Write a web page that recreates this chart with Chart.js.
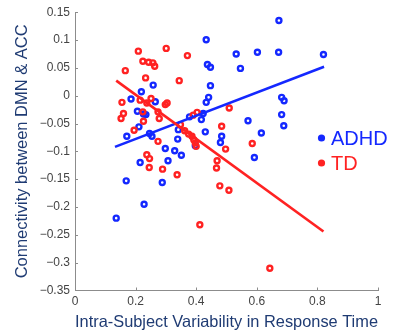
<!DOCTYPE html>
<html><head><meta charset="utf-8">
<script src="https://cdn.jsdelivr.net/npm/chart.js@4/dist/chart.umd.min.js"></script>
<style>html,body{margin:0;padding:0;background:#fff}#wrap{width:399px;height:335px;position:relative}</style>
</head><body><div id="wrap"><canvas id="c" width="399" height="335"></canvas></div>
<script>
const seriesNames = ['ADHD', 'TD'];
const xTitle = 'Intra-Subject Variability in Response Time';
const yTitle = 'Connectivity between DMN & ACC';
const xTicks = [0, 0.2, 0.4, 0.6, 0.8, 1];
const yTicks = [0.15, 0.1, 0.05, 0, -0.05, -0.1, -0.15, -0.2, -0.25, -0.3, -0.35];

const adhdX = [0.433,0.437,0.447,0.447,0.441,0.433,0.258,0.219,0.185,0.265,0.206,0.226,0.234,0.211,0.171,0.246,0.254,0.341,0.339,0.378,0.417,0.423,0.430,0.484,0.480,0.298,0.329,0.351,0.397,0.215,0.307,0.169,0.288,0.228,0.136,0.673,0.532,0.602,0.672,0.820,0.546,0.682,0.690,0.571,0.682,0.689,0.615,0.592];
const adhdY = [0.1005,0.056,0.051,0.018,-0.003,-0.012,0.019,0.007,-0.006,-0.011,-0.028,-0.033,-0.034,-0.056,-0.073,-0.068,-0.073,-0.061,-0.078,-0.038,-0.043,-0.032,-0.065,-0.073,-0.084,-0.095,-0.099,-0.107,-0.090,-0.120,-0.117,-0.153,-0.156,-0.195,-0.220,0.135,0.075,0.078,0.078,0.074,0.049,-0.003,-0.009,-0.045,-0.034,-0.054,-0.067,-0.111];

const tdX = [0.301,0.209,0.371,0.224,0.243,0.257,0.263,0.166,0.233,0.344,0.155,0.215,0.237,0.251,0.304,0.298,0.160,0.152,0.224,0.274,0.278,0.226,0.195,0.403,0.390,0.348,0.362,0.375,0.386,0.392,0.397,0.400,0.484,0.509,0.274,0.497,0.585,0.237,0.246,0.245,0.289,0.337,0.469,0.467,0.478,0.508,0.412,0.643];
const tdY = [0.085,0.080,0.072,0.062,0.060,0.059,0.053,0.045,0.032,0.027,-0.012,-0.008,-0.013,-0.005,-0.013,-0.016,-0.032,-0.041,-0.029,-0.029,-0.041,-0.046,-0.062,-0.030,-0.035,-0.052,-0.063,-0.069,-0.073,-0.079,-0.085,-0.091,-0.055,-0.022,-0.082,-0.096,-0.086,-0.106,-0.113,-0.129,-0.132,-0.142,-0.117,-0.130,-0.162,-0.170,-0.232,-0.310];

const adhdFitX = [0.132, 0.822];
const adhdFitY = [-0.092, 0.052];
const tdFitX = [0.136, 0.820];
const tdFitY = [0.027, -0.244];

const BLUE = '#1428ff';
const RED = '#ff2222';
const TITLE = '#1f3b73';
const TICK = '#444444';
const AXIS = '#8c8c8c';
const FONT = '"Liberation Sans", Arial, Helvetica, sans-serif';

const pts = (xs, ys) => xs.map((x, i) => ({x: x, y: ys[i]}));
const fmt = v => { const r = Math.round(v * 100) / 100; return r < 0 ? '\u2212' + String(Math.abs(r)) : String(r); };

const innerTicks = {
  id: 'innerTicks',
  afterDraw(chart) {
    const {ctx, chartArea: a, scales: {x, y}} = chart;
    ctx.save();
    ctx.strokeStyle = AXIS; ctx.lineWidth = 1;
    ctx.beginPath();
    xTicks.forEach(v => { if (v === 0) return; const px = Math.round(x.getPixelForValue(v)) + 0.5; ctx.moveTo(px, a.bottom); ctx.lineTo(px, a.bottom - 3); });
    yTicks.forEach(v => { if (v === -0.35) return; const py = Math.round(y.getPixelForValue(v)) + 0.5; ctx.moveTo(a.left, py); ctx.lineTo(a.left + 3, py); });
    ctx.stroke();
    ctx.restore();
  }
};

const legendInside = {
  id: 'legendInside',
  afterDraw(chart) {
    const ctx = chart.ctx;
    const items = [[seriesNames[0], BLUE, 138], [seriesNames[1], RED, 163]];
    ctx.save();
    ctx.font = '20px ' + FONT;
    ctx.textBaseline = 'middle';
    items.forEach(([t, c, yy]) => {
      ctx.fillStyle = c;
      ctx.beginPath(); ctx.arc(321.5, yy, 3.6, 0, Math.PI * 2); ctx.fill();
      ctx.fillText(t, 331, yy + 1);
    });
    ctx.restore();
  }
};

new Chart(document.getElementById('c'), {
  type: 'scatter',
  data: {
    datasets: [
      {label: seriesNames[1] + ' fit', type: 'line', data: pts(tdFitX, tdFitY), borderColor: RED, borderWidth: 2.6, pointRadius: 0, fill: false, order: 0},
      {label: seriesNames[0] + ' fit', type: 'line', data: pts(adhdFitX, adhdFitY), borderColor: BLUE, borderWidth: 2.6, pointRadius: 0, fill: false, order: 1},
      {label: seriesNames[1], data: pts(tdX, tdY), pointRadius: 2.5, borderWidth: 2.4, borderColor: RED, backgroundColor: 'rgba(0,0,0,0)', order: 2},
      {label: seriesNames[0], data: pts(adhdX, adhdY), pointRadius: 2.5, borderWidth: 2.4, borderColor: BLUE, backgroundColor: 'rgba(0,0,0,0)', order: 3}
    ]
  },
  options: {
    responsive: false,
    animation: false,
    devicePixelRatio: 1,
    layout: {padding: {top: 7, right: 21, left: 0, bottom: 0}},
    plugins: {legend: {display: false}, tooltip: {enabled: false}},
    scales: {
      x: {
        type: 'linear', min: 0, max: 1,
        afterBuildTicks: s => { s.ticks = xTicks.map(v => ({value: v})); },
        afterFit: s => { s.height = 44.5; },
        grid: {display: false, drawTicks: false},
        border: {display: true, color: AXIS, width: 1},
        ticks: {padding: 4, color: TICK, font: {size: 12, family: FONT}, callback: fmt, maxRotation: 0, autoSkip: false},
        title: {display: true, text: xTitle, color: TITLE, font: {size: 16.5, family: FONT}, padding: {top: 0, bottom: 3}}
      },
      y: {
        type: 'linear', min: -0.35, max: 0.15,
        afterBuildTicks: s => { s.ticks = yTicks.map(v => ({value: v})); },
        afterFit: s => { s.width = 75; },
        grid: {display: false, drawTicks: false},
        border: {display: true, color: AXIS, width: 1},
        ticks: {padding: 5, color: TICK, font: {size: 12, family: FONT}, callback: fmt, autoSkip: false},
        title: {display: true, text: yTitle, color: TITLE, font: {size: 16.5, family: FONT}, padding: {top: 13, bottom: 0}}
      }
    }
  },
  plugins: [innerTicks, legendInside]
});
</script>
</body></html>
